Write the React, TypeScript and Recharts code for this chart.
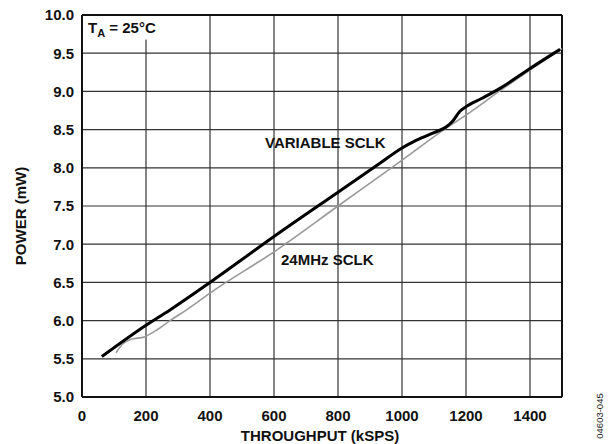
import React from 'react'
import {
  LineChart, Line, XAxis, YAxis, CartesianGrid, ReferenceLine, ReferenceArea,
} from 'recharts'

// throughput (kSPS) / power (mW)
const variableX = [62, 200, 275, 400, 600, 800, 931, 1000, 1035, 1100, 1140, 1160, 1181, 1200, 1250, 1306, 1400, 1494]
const variableY = [5.53, 5.94, 6.14, 6.5, 7.1, 7.68, 8.06, 8.26, 8.34, 8.46, 8.54, 8.62, 8.74, 8.8, 8.91, 9.04, 9.3, 9.55]

const fixedX = [106, 129, 150, 197, 235, 275, 327, 400, 600, 800, 957, 1000, 1145, 1200, 1300, 1400, 1500]
const fixedY = [5.58, 5.7, 5.75, 5.79, 5.88, 6.0, 6.14, 6.36, 6.9, 7.5, 7.97, 8.1, 8.54, 8.69, 8.99, 9.28, 9.56]

const xTicks = [0, 200, 400, 600, 800, 1000, 1200, 1400]
const yTicks = [5, 5.5, 6, 6.5, 7, 7.5, 8, 8.5, 9, 9.5, 10]

const variableData = variableX.map((x, i) => ({ x, y: variableY[i] }))
const fixedData = fixedX.map((x, i) => ({ x, y: fixedY[i] }))

const FONT = '"Liberation Sans", Arial, sans-serif'
const tickStyle = { fontSize: 15, fontWeight: 700, fill: '#111', fontFamily: FONT }

// T_A note sits on a white patch that hides the 200 gridline behind it
const TempNote = () => (
  <text x={88} y={33} fontSize={15} fontWeight={700} fontFamily={FONT} fill="#111">
    T<tspan fontSize={11} dy={4}>A</tspan><tspan dy={-4}> = 25°C</tspan>
  </text>
)

export default function App() {
  return (
    <div style={{ position: 'absolute', left: 0, top: 0, width: 616, height: 444, background: '#fff' }}>
      <LineChart width={616} height={444} margin={{ top: 15, right: 54, bottom: 17, left: 0 }}>
        <CartesianGrid stroke="#333" strokeWidth={1.2} />
        <XAxis
          type="number" dataKey="x" domain={[0, 1500]} ticks={xTicks}
          tick={tickStyle} tickLine={false} tickSize={6} tickMargin={7}
          axisLine={{ stroke: '#111', strokeWidth: 2 }} height={30}
        />
        <YAxis
          type="number" dataKey="y" domain={[5, 10]} ticks={yTicks}
          tick={tickStyle} tickLine={false} tickSize={4} tickMargin={4}
          tickFormatter={(v: number) => v.toFixed(1)}
          axisLine={{ stroke: '#111', strokeWidth: 2 }} width={82}
        />
        <ReferenceLine x={1500} stroke="#111" strokeWidth={2} />
        <ReferenceLine y={10} stroke="#111" strokeWidth={2} />
        <ReferenceArea x1={5} x2={250} y1={9.68} y2={9.99} fill="#fff" fillOpacity={1} stroke="none"
          label={<TempNote />} />
        <Line data={fixedData} dataKey="y" type="monotone" stroke="#999" strokeWidth={1.6} dot={false} isAnimationActive={false} />
        <Line data={variableData} dataKey="y" type="monotone" stroke="#000" strokeWidth={3} dot={false} isAnimationActive={false} />
        <text x={265} y={148} fontSize={15} fontWeight={700} fontFamily={FONT} fill="#111">VARIABLE SCLK</text>
        <text x={281} y={265} fontSize={15} fontWeight={700} fontFamily={FONT} fill="#111">24MHz SCLK</text>
        <text x={320} y={441} textAnchor="middle" fontSize={15} fontWeight={700} fontFamily={FONT} fill="#111">THROUGHPUT (kSPS)</text>
        <text x={26} y={216} textAnchor="middle" fontSize={15} fontWeight={700} fontFamily={FONT} fill="#111" transform="rotate(-90 26 216)">POWER (mW)</text>
        <text x={603} y={416} textAnchor="middle" fontSize={9.5} fontFamily={FONT} fill="#222" transform="rotate(-90 603 416)">04603-045</text>
      </LineChart>
    </div>
  )
}
